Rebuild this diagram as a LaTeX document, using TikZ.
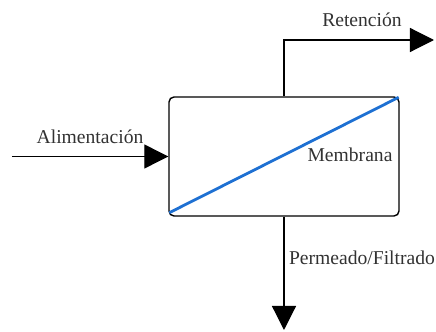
\documentclass[tikz,border=0pt]{standalone}
\usepackage{fontspec}
\setmainfont{Liberation Serif}
\usepackage{xcolor}
\usetikzlibrary{arrows.meta}
\definecolor{membblue}{RGB}{30,112,210}
\definecolor{txtgray}{RGB}{50,50,50}
\tikzset{
  flow/.style={-{Triangle[length=12pt,width=12pt]},line width=0.6pt},
  unit/.style={draw,line width=0.7pt,rounded corners=2.5pt,minimum width=115pt,minimum height=59.5pt,inner sep=0pt},
  lbl/.style={text=txtgray,font=\fontsize{9.8}{12}\selectfont,inner sep=0pt}
}
\begin{document}
\begin{tikzpicture}[x=0.5pt,y=-0.5pt]
    \useasboundingbox (0,0) rectangle (436,332);
    \node[unit] (memb) at (284,156.5) {};
    \coordinate (feed) at (12,156.5);
    \coordinate (ret) at (434,40);
    \coordinate (perm) at (284,330);
    % streams
    \draw[flow] (feed) -- (memb.west);
    \draw[flow] (memb.north) |- (ret);
    \draw[flow] (memb.south) -- (perm);
    % membrane
    \draw[membblue,line width=1.4pt] ([xshift=0.5pt,yshift=2pt]memb.south west) -- ([xshift=-0.5pt,yshift=-0.5pt]memb.north east);
    % labels
    \node[lbl] (lalim) at (90,137) {Alimentación};
    \node[lbl] (lret) at (362,20) {Retención};
    \node[lbl] (lperm) at (362,258) {Permeado/Filtrado};
    \node[lbl] (lmemb) at (350,155) {Membrana};
  \end{tikzpicture}
\end{document}
